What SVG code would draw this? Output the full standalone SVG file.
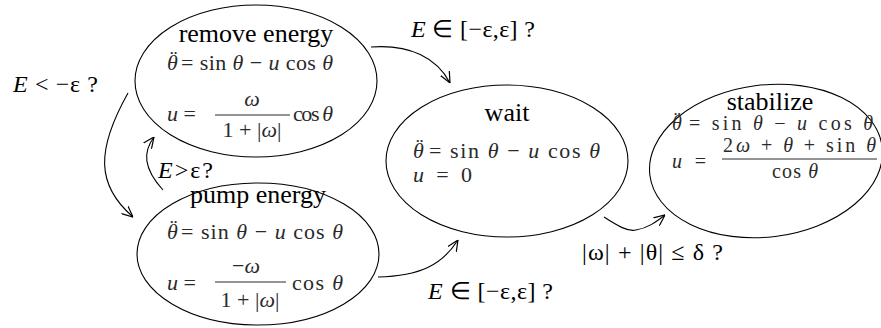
<svg xmlns="http://www.w3.org/2000/svg" width="881" height="328" viewBox="0 0 881 328">
<style>
  .bg { fill: #ffffff; }
  .node { fill: none; stroke: #000; stroke-width: 1.1; }
  text { font-family: "Liberation Serif", "Times New Roman", serif; }
  .title { font-size: 26px; fill: #000; text-anchor: middle; }
  .math { font-size: 22px; fill: #2a2a2a; }
  .sm { font-size: 20px; }
  .mid { text-anchor: middle; }
  .lbl { font-size: 24px; fill: #000; }
  .i { font-style: italic; }
  .n { font-style: normal; }
  .bar { stroke: #2a2a2a; stroke-width: 1.2; }
  .edge { fill: none; stroke: #000; stroke-width: 1.1; }
</style>
<defs>
  <marker id="arr" viewBox="0 0 10 10" refX="10" refY="5" markerWidth="11" markerHeight="11" markerUnits="userSpaceOnUse" orient="auto">
    <path d="M0,0.5 L10,5 L0,9.5" fill="none" stroke="#000" stroke-width="1.1"/>
  </marker>
</defs>
<rect class="bg" x="0" y="0" width="881" height="328"/>

<g id="remove-energy">
  <ellipse class="node" cx="256" cy="81" rx="121" ry="76"/>
  <text class="title" x="256" y="42">remove energy</text>
  <text class="math i" x="167" y="70">θ<tspan class="n" x="170" y="65">¨</tspan></text>
  <text class="math" x="181" y="70" textLength="152" lengthAdjust="spacing">= sin <tspan class="i">θ</tspan> − <tspan class="i">u</tspan> cos <tspan class="i">θ</tspan></text>
  <text class="math" x="167" y="121"><tspan class="i">u</tspan> =</text>
  <text class="math mid" x="252" y="106"><tspan class="i">ω</tspan></text>
  <line class="bar" x1="215" y1="115" x2="290" y2="115"/>
  <text class="math mid" x="252" y="137">1 + |<tspan class="i">ω</tspan>|</text>
  <text class="math" x="293" y="121" textLength="40" lengthAdjust="spacing">cos <tspan class="i">θ</tspan></text>
</g>

<g id="pump-energy">
  <ellipse class="node" cx="258" cy="254" rx="121" ry="71"/>
  <text class="title" x="258" y="203">pump energy</text>
  <text class="math i" x="167" y="239">θ<tspan class="n" x="170" y="234">¨</tspan></text>
  <text class="math" x="181" y="239" textLength="162" lengthAdjust="spacing">= sin <tspan class="i">θ</tspan> − <tspan class="i">u</tspan> cos <tspan class="i">θ</tspan></text>
  <text class="math" x="167" y="290"><tspan class="i">u</tspan> =</text>
  <text class="math mid" x="246" y="273">−<tspan class="i">ω</tspan></text>
  <line class="bar" x1="215" y1="282" x2="286" y2="282"/>
  <text class="math mid" x="250" y="307">1 + |<tspan class="i">ω</tspan>|</text>
  <text class="math" x="292" y="290" textLength="51" lengthAdjust="spacing">cos <tspan class="i">θ</tspan></text>
</g>

<g id="wait">
  <ellipse class="node" cx="507" cy="161" rx="121" ry="76"/>
  <text class="title" x="507" y="121">wait</text>
  <text class="math i" x="413" y="158">θ<tspan class="n" x="416" y="153">¨</tspan></text>
  <text class="math" x="429" y="158" textLength="171" lengthAdjust="spacing">= sin <tspan class="i">θ</tspan> − <tspan class="i">u</tspan> cos <tspan class="i">θ</tspan></text>
  <text class="math" x="413" y="182" textLength="59" lengthAdjust="spacing"><tspan class="i">u</tspan> = 0</text>
</g>

<g id="stabilize">
  <ellipse class="node" cx="766" cy="161" rx="117" ry="76" transform="rotate(-7 766 161)"/>
  <text class="title" x="770" y="110">stabilize</text>
  <text class="math sm i" x="672" y="130">θ<tspan class="n" x="674" y="126">¨</tspan></text>
  <text class="math sm" x="689" y="130" textLength="184" lengthAdjust="spacing">= sin <tspan class="i">θ</tspan> − <tspan class="i">u</tspan> cos <tspan class="i">θ</tspan></text>
  <text class="math sm" x="672" y="168" textLength="34" lengthAdjust="spacing"><tspan class="i">u</tspan> =</text>
  <text class="math sm" x="723" y="152" textLength="153" lengthAdjust="spacing">2<tspan class="i">ω</tspan> + <tspan class="i">θ</tspan> + sin <tspan class="i">θ</tspan></text>
  <line class="bar" x1="722" y1="159" x2="877" y2="159"/>
  <text class="math sm" x="772" y="178" textLength="46" lengthAdjust="spacing">cos <tspan class="i">θ</tspan></text>
</g>

<g id="connectors">
  <path class="edge" d="M128,93 C96,150 96,185 133,217" marker-end="url(#arr)"/>
  <path class="edge" d="M163,190 C143,168 143,152 154,137" marker-end="url(#arr)"/>
  <path class="edge" d="M371,47 C410,44 437,58 450,83" marker-end="url(#arr)"/>
  <path class="edge" d="M378,277 C420,276 442,265 458,240" marker-end="url(#arr)"/>
  <path class="edge" d="M604,217 C618,226 628,232 636,230 C648,228 656,222 665,215" marker-end="url(#arr)"/>
</g>

<g id="labels">
  <text class="lbl" x="13" y="92" textLength="85" lengthAdjust="spacing"><tspan class="i">E</tspan> &lt; −ε ?</text>
  <text class="lbl" x="158" y="178" textLength="55" lengthAdjust="spacing"><tspan class="i">E</tspan>&gt;ε?</text>
  <text class="lbl" x="411" y="37" textLength="124" lengthAdjust="spacing"><tspan class="i">E</tspan> ∈ [−ε,ε] ?</text>
  <text class="lbl" x="428" y="299" textLength="125" lengthAdjust="spacing"><tspan class="i">E</tspan> ∈ [−ε,ε] ?</text>
  <text class="lbl" x="582" y="260" textLength="141" lengthAdjust="spacing">|ω| + |θ| ≤ δ ?</text>
</g>
</svg>
